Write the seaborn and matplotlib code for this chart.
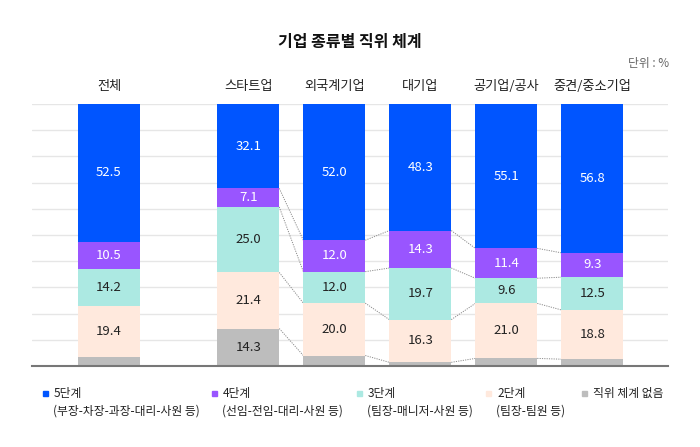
import numpy as np
import pandas as pd
import matplotlib
matplotlib.use("Agg")
import matplotlib.pyplot as plt
import seaborn as sns

# data (bottom -> top: 없음, 2단계, 3단계, 4단계, 5단계)
groups = ["전체", "스타트업", "외국계기업", "대기업", "공기업/공사", "중견/중소기업"]
level5 = [52.5, 32.1, 52.0, 48.3, 55.1, 56.8]
level4 = [10.5, 7.1, 12.0, 14.3, 11.4, 9.3]
level3 = [14.2, 25.0, 12.0, 19.7, 9.6, 12.5]
level2 = [19.4, 21.4, 20.0, 16.3, 21.0, 18.8]
no_level = [3.4, 14.3, 4.0, 1.4, 2.9, 2.6]

series_names = ["5단계", "4단계", "3단계", "2단계", "직위 체계 없음"]
series_notes = ["(부장-차장-과장-대리-사원 등)", "(선임-전임-대리-사원 등)",
                "(팀장-매니저-사원 등)", "(팀장-팀원 등)", ""]
colors = ["#0055ff", "#9955ff", "#ace9e2", "#ffe9dd", "#bdbdbd"]
text_colors = ["white", "white", "#222222", "#222222", "#222222"]

sns.set_theme(style="white")
plt.rcParams["font.family"] = ["Noto Sans CJK KR", "DejaVu Sans"]

xpos = np.array([0, 1.62, 2.62, 3.62, 4.62, 5.62])
bar_w = 0.72

# stack order from top to bottom
layers = [level5, level4, level3, level2, no_level]
df = pd.DataFrame({"x": xpos})
bottom_up = [no_level, level2, level3, level4, level5]
cum = np.cumsum(np.array(bottom_up), axis=0)  # cumulative tops, bottom->top

fig = plt.figure(figsize=(7, 4.47), dpi=100)
ax = fig.add_axes([32 / 700, 81 / 447, 636 / 700, 262 / 447])

# gridlines
for v in range(0, 101, 10):
    ax.axhline(v, color="#e6e6e6", lw=1, zorder=0)

# draw cumulative bars from the tallest (top layer) down
for i in range(4, -1, -1):
    df["y"] = cum[i]
    sns.barplot(data=df, x="x", y="y", native_scale=True, width=bar_w,
                color=colors[4 - i], saturation=1, ax=ax, zorder=2,
                edgecolor="none", linewidth=0)

# connector lines between bars (skip 전체)
for i in range(4):
    for j in range(1, len(xpos) - 1):
        ax.plot([xpos[j] + bar_w / 2, xpos[j + 1] - bar_w / 2],
                [cum[i][j], cum[i][j + 1]], color="#8c8c8c", lw=0.7,
                linestyle=(0, (1.2, 1.2)), zorder=1)

# value labels
for k, vals in enumerate(layers):
    lvl = 4 - k
    for j, v in enumerate(vals):
        if v < 5:
            continue
        base = cum[lvl][j] - v
        ax.text(xpos[j], base + v / 2, f"{v:.1f}", ha="center", va="center",
                fontsize=9.5, color=text_colors[k], fontweight="medium", zorder=3)

# group labels above bars
for j, g in enumerate(groups):
    ax.text(xpos[j], 106.5, g, ha="center", va="center", fontsize=9.5,
            color="#222222")

ax.set_xlim(-0.895, 6.5)
ax.set_ylim(0, 100)
ax.set_xticks([])
ax.set_yticks([])
ax.set_xlabel("")
ax.set_ylabel("")
for s in ["top", "left", "right"]:
    ax.spines[s].set_visible(False)
ax.spines["bottom"].set_color("#777777")
ax.spines["bottom"].set_linewidth(1.5)
ax.spines["bottom"].set_zorder(4)

fig.text(0.5, 1 - 42 / 447, "기업 종류별 직위 체계", ha="center", va="center",
         fontsize=11.5, color="#111111", fontweight="bold")
fig.text(669 / 700, 1 - 64 / 447, "단위 : %", ha="right", va="center",
         fontsize=8.5, color="#666666")

# legend
sq_x = [43, 212, 357, 486, 582]
for k in range(5):
    fig.patches.append(plt.Rectangle((sq_x[k] / 700, 1 - 396 / 447), 5 / 700, 5 / 447,
                                     transform=fig.transFigure, color=colors[k]))
    fig.text((sq_x[k] + 11) / 700, 1 - 393 / 447, series_names[k], ha="left",
             va="center", fontsize=8.5, color="#222222")
    if series_notes[k]:
        fig.text((sq_x[k] + 10) / 700, 1 - 411 / 447, series_notes[k], ha="left",
                 va="center", fontsize=8.5, color="#222222")

fig.savefig("out.png", dpi=100)
